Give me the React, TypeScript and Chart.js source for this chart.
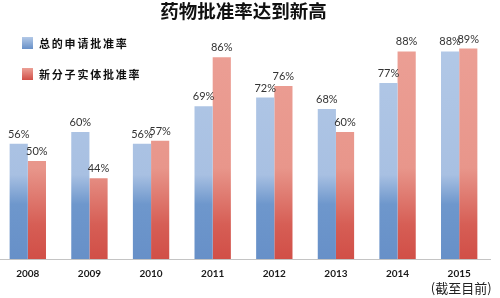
import React, { useEffect, useRef } from "react";
import { Chart, registerables } from "chart.js";

Chart.register(...registerables);

// ---- data ----
const titleText = "药物批准率达到新高";
const years = ["2008", "2009", "2010", "2011", "2012", "2013", "2014", "2015"];
const noteLabel = "(截至目前)";
const seriesNames = ["总的申请批准率", "新分子实体批准率"];
const totalRates = [56, 60, 56, 69, 72, 68, 77, 88];
const nmeRates = [50, 44, 57, 86, 76, 60, 88, 89];

// ---- style ----
const SHIFT = 3;
const W = 503;
const H = 298;
const CJK = "'Noto Sans CJK SC', 'Noto Sans', sans-serif";
const NUM = "Lato, 'Open Sans', sans-serif";

const blueStops: [number, string][] = [
  [0, "#6790c8"],
  [0.24, "#6e97cc"],
  [0.37, "#a8c0e2"],
  [1, "#b3c9e7"],
];
const redStops: [number, string][] = [
  [0, "#d14f47"],
  [0.15, "#d65e55"],
  [0.4, "#e8968b"],
  [1, "#eca096"],
];

function vGrad(ctx: CanvasRenderingContext2D, bottom: number, top: number, stops: [number, string][]) {
  const g = ctx.createLinearGradient(0, bottom, 0, top);
  stops.forEach(([p, c]) => g.addColorStop(p, c));
  return g;
}

function barColor(stops: [number, string][]) {
  return (c: any) => {
    const chart = c.chart;
    const area = chart.chartArea;
    if (!area) return stops[stops.length - 1][1];
    return vGrad(chart.ctx, area.bottom, area.top, stops);
  };
}

const labelPlugin = {
  id: "valueLabels",
  afterDatasetsDraw(chart: any) {
    const ctx = chart.ctx;
    ctx.save();
    ctx.font = `11px ${NUM}`;
    ctx.fillStyle = "#333333";
    ctx.textAlign = "center";
    ctx.textBaseline = "bottom";
    chart.data.datasets.forEach((ds: any, i: number) => {
      const meta = chart.getDatasetMeta(i);
      meta.data.forEach((el: any, j: number) => {
        ctx.fillText(`${ds.data[j]}%`, el.x, el.y - 4);
      });
    });
    ctx.restore();
  },
};

const legendPlugin = {
  id: "customLegend",
  afterDraw(chart: any) {
    const ctx = chart.ctx;
    const items = [
      { text: chart.data.datasets[0].label, stops: blueStops, y: 37 },
      { text: chart.data.datasets[1].label, stops: redStops, y: 68 },
    ];
    ctx.save();
    items.forEach((it) => {
      const x = 22 + SHIFT;
      ctx.fillStyle = vGrad(ctx, it.y + 12, it.y, [
        [0, it.stops[0][1]],
        [1, it.stops[it.stops.length - 1][1]],
      ]);
      ctx.fillRect(x, it.y, 11, 12);
      ctx.font = `bold 11px ${CJK}`;
      (ctx as any).letterSpacing = "1.8px";
      ctx.fillStyle = "#111111";
      ctx.textAlign = "left";
      ctx.textBaseline = "middle";
      ctx.fillText(it.text, 39 + SHIFT, it.y + 6.5);
    });
    ctx.restore();
  },
};

const notePlugin = {
  id: "note",
  afterDraw(chart: any) {
    const ctx = chart.ctx;
    const xs = chart.scales.x;
    ctx.save();
    ctx.font = `13px ${CJK}`;
    ctx.fillStyle = "#222222";
    ctx.textAlign = "center";
    ctx.textBaseline = "middle";
    ctx.fillText(noteLabel, xs.getPixelForValue(years.length - 1) + 2, 288);
    ctx.restore();
  },
};

export default function App() {
  const ref = useRef<HTMLCanvasElement | null>(null);

  useEffect(() => {
    if (!ref.current) return;
    const chart = new Chart(ref.current, {
      type: "bar",
      data: {
        labels: years,
        datasets: [
          {
            label: seriesNames[0],
            data: totalRates,
            backgroundColor: barColor(blueStops),
            borderWidth: 0,
            categoryPercentage: 0.59,
            barPercentage: 1,
          },
          {
            label: seriesNames[1],
            data: nmeRates,
            backgroundColor: barColor(redStops),
            borderWidth: 0,
            categoryPercentage: 0.59,
            barPercentage: 1,
          },
        ],
      },
      options: {
        responsive: false,
        animation: false,
        devicePixelRatio: 1,
        layout: { padding: { top: 0, left: 0, right: 10, bottom: 0 } },
        plugins: {
          legend: { display: false },
          tooltip: { enabled: false },
          title: {
            display: true,
            text: titleText,
            color: "#111111",
            font: { family: CJK, size: 18.5, weight: "bold" },
            padding: { top: 0, bottom: 9 },
          },
        },
        scales: {
          x: {
            offset: true,
            grid: { display: false, drawTicks: false },
            border: { display: true, color: "#c4c4c4", width: 1 },
            ticks: {
              font: { family: NUM, size: 10, weight: "bold" },
              color: "#1a1a1a",
              padding: 9,
              maxRotation: 0,
              autoSkip: false,
            },
            afterFit: (s: any) => {
              s.height = 39;
            },
          },
          y: {
            display: false,
            min: 16,
            max: 95,
          },
        },
      },
      plugins: [labelPlugin, legendPlugin, notePlugin],
    });
    return () => chart.destroy();
  }, []);

  return (
    <div style={{ position: "absolute", left: 0, top: 0, width: 500, height: 298, overflow: "hidden", background: "#fff" }}>
      <canvas
        ref={ref}
        width={W}
        height={H}
        style={{ position: "absolute", left: -SHIFT, top: 0, width: W, height: H, display: "block" }}
      />
    </div>
  );
}
